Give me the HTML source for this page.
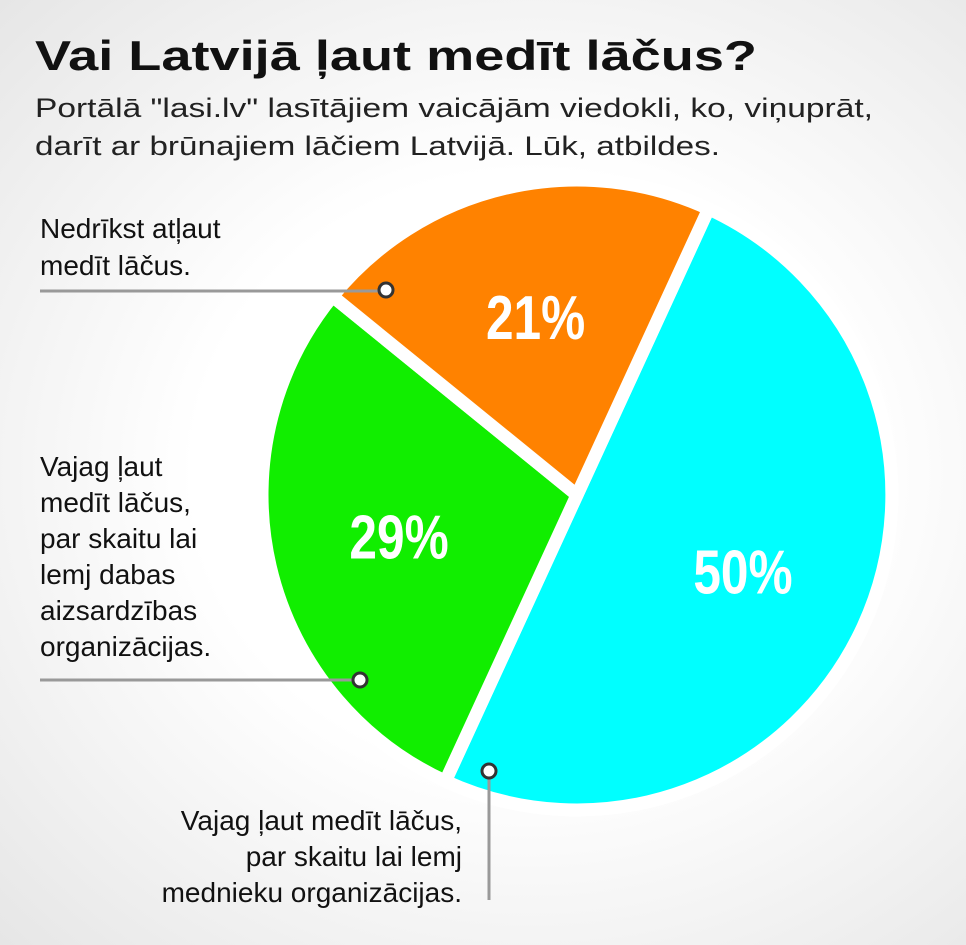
<!DOCTYPE html>
<html><head><meta charset="utf-8"><style>
body{margin:0;width:966px;height:945px;overflow:hidden;font-family:"Liberation Sans",sans-serif;}
#bg{position:absolute;left:0;top:0;width:966px;height:945px;background:radial-gradient(ellipse at 55% 50%,#ffffff 45%,#e6e6e6 100%);}
svg{position:absolute;left:0;top:0;}
</style></head><body>
<div id="bg"></div>
<svg width="966" height="945">
<text x="35" y="70" font-size="42" font-weight="bold" fill="#111" textLength="722" lengthAdjust="spacingAndGlyphs">Vai Latvijā ļaut medīt lāčus?</text>
<g font-size="27" fill="#222">
<text x="35" y="117" textLength="838" lengthAdjust="spacingAndGlyphs">Portālā "lasi.lv" lasītājiem vaicājām viedokli, ko, viņuprāt,</text>
<text x="35" y="155" textLength="685" lengthAdjust="spacingAndGlyphs">darīt ar brūnajiem lāčiem Latvijā. Lūk, atbildes.</text>
</g>
<g id="slices"></g>
<g id="pcts"></g>
<g stroke="#999" stroke-width="3" fill="none">
<line x1="40" y1="291" x2="385" y2="291"/>
<line x1="40" y1="680" x2="360" y2="680"/>
<line x1="489" y1="772" x2="489" y2="900"/>
</g>
<g fill="#fff" stroke="#333" stroke-width="3">
<circle cx="386" cy="290" r="7"/><circle cx="360" cy="680" r="7"/><circle cx="489" cy="771" r="7"/>
</g>
<g font-size="28" fill="#111">
<text x="40" y="238">Nedrīkst atļaut</text><text x="40" y="275">medīt lāčus.</text>
</g>
<g font-size="28" fill="#111">
<text x="40" y="476">Vajag ļaut</text><text x="40" y="512">medīt lāčus,</text><text x="40" y="548">par skaitu lai</text><text x="40" y="584">lemj dabas</text><text x="40" y="620">aizsardzības</text><text x="40" y="656">organizācijas.</text>
</g>
<g font-size="28" fill="#111" text-anchor="end">
<text x="462" y="830">Vajag ļaut medīt lāčus,</text><text x="462" y="866">par skaitu lai lemj</text><text x="462" y="902">mednieku organizācijas.</text>
</g>
</svg>
<script>
const categories=["Nedrīkst atļaut","Vajag - dabas org.","Vajag - mednieku org."];
const values=[21,29,50];
const pctLabels=["21%","29%","50%"];
const colors=["#ff8200","#11ee00","#00ffff"];
const cx=577,cy=495,R=315;
const ns="http://www.w3.org/2000/svg";
const gS=document.getElementById("slices"),gP=document.getElementById("pcts");
const order=[2,1,0];
let a=24.7;const total=values.reduce((s,v)=>s+v,0);
function pt(deg,r){const t=(deg-90)*Math.PI/180;return [cx+r*Math.cos(t),cy+r*Math.sin(t)];}
order.forEach(i=>{
 const sweep=values[i]/total*360;const a2=a+sweep;
 const p1=pt(a,R),p2=pt(a2,R);
 const p=document.createElementNS(ns,"path");
 p.setAttribute("d",`M${cx},${cy}L${p1[0]},${p1[1]}A${R},${R} 0 ${sweep>180?1:0} 1 ${p2[0]},${p2[1]}Z`);
 p.setAttribute("fill",colors[i]);p.setAttribute("stroke","#fff");p.setAttribute("stroke-width","13");p.setAttribute("stroke-linejoin","round");
 
 
 gS.appendChild(p);
 const m=pt(a+sweep/2,R*0.58);
 const t=document.createElementNS(ns,"text");
 t.setAttribute("x",m[0]);t.setAttribute("y",m[1]+22);t.setAttribute("text-anchor","middle");
 t.setAttribute("font-size","62");t.setAttribute("font-weight","bold");t.setAttribute("fill","#fff");
 t.setAttribute("transform",`translate(${m[0]},0) scale(0.8,1) translate(${-m[0]},0)`);
 t.textContent=pctLabels[i];
 
 
 gP.appendChild(t);
 a=a2;
});
</script>
</body></html>
